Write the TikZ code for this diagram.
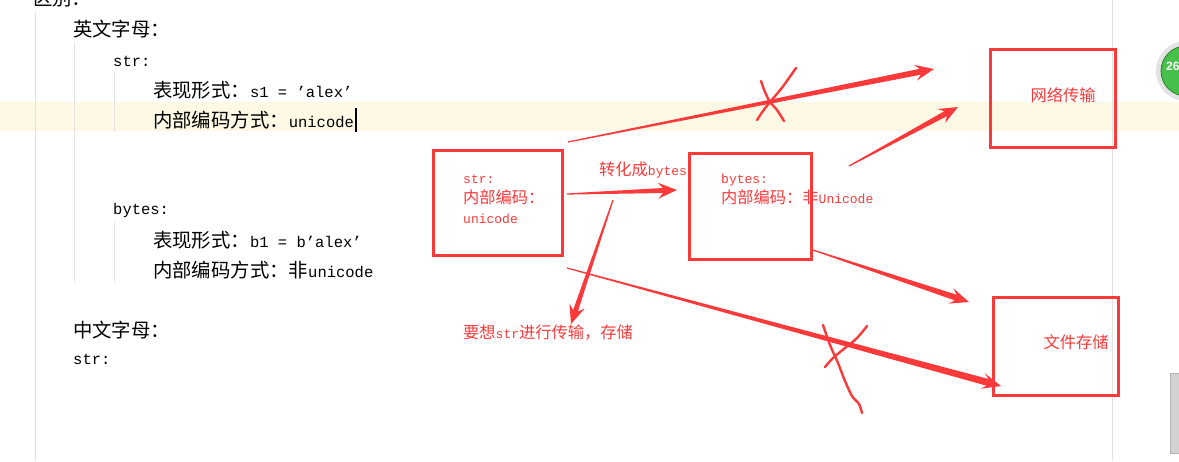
\documentclass[tikz,border=0pt]{standalone}
\usepackage{fontspec}
\setmainfont{Liberation Mono}
\newfontfamily\cjk[Scale=1.25]{Noto Sans CJK SC}
\newfontfamily\uisans{Liberation Sans}
\usetikzlibrary{calc}
\definecolor{annot}{RGB}{250,58,58}
\definecolor{guide}{RGB}{226,226,226}
\definecolor{caretline}{RGB}{253,249,229}
\definecolor{badge}{RGB}{70,192,72}
\newcommand\zh[1]{{\cjk #1}}
% tapered annotation arrow: from, to, half width of the shaft at the head
\newcommand\annarrow[3]{%
  \path ($(#2)!19pt!(#1)$) coordinate (wing) ($(#2)!14pt!(#1)$) coordinate (notch);
  \fill[annot] ($(#1)!0.6pt!90:(#2)$) -- ($(notch)!#3pt!-90:(#1)$) -- ($(wing)!8pt!-90:(#1)$)
    -- (#2) -- ($(wing)!8pt!90:(#1)$) -- ($(notch)!#3pt!90:(#1)$) -- ($(#1)!0.6pt!-90:(#2)$) -- cycle;
}

\begin{document}
\begin{tikzpicture}[x=1pt,y=-1pt,
  code/.style={anchor=west,inner sep=0pt,font=\fontsize{15.5}{18}\selectfont},
  note/.style={anchor=west,inner sep=0pt,text=annot,align=left,font=\fontsize{13}{20}\selectfont},
  frame/.style={draw=annot,line width=3pt,inner sep=0pt},
  scrawl/.style={annot,line width=2.4pt,line cap=round,line join=round}]
\useasboundingbox (0,0) rectangle (1179,461);
\clip (0,0) rectangle (1179,461);
\fill[white] (0,0) rectangle (1179,461);
\fill[caretline] (0,102) rectangle (1179,131);
% editor guides
\draw[guide] (35,12) -- (35,461);
\draw[guide] (74,42) -- (74,282);
\draw[guide] (114,72) -- (114,132);
\draw[guide] (114,222) -- (114,282);
\draw[guide] (1112,0) -- (1112,461);

% code text
\node[code] (diff) at (33,-2) {\zh{区别：}};
\node[code] (enletters) at (73,29) {\zh{英文字母：}};
\node[code] (strhead) at (113,61) {str:};
\node[code] (strform) at (153,90) {\zh{表现形式：}s1 = 'alex'};
\node[code] (strenc) at (153,120) {\zh{内部编码方式：}unicode};
\node[code] (byteshead) at (113,210) {bytes:};
\node[code] (bytesform) at (153,240) {\zh{表现形式：}b1 = b'alex'};
\node[code] (bytesenc) at (153,270) {\zh{内部编码方式：非}unicode};
\node[code] (cnletters) at (73,330) {\zh{中文字母：}};
\node[code] (cnstr) at (73,359) {str:};
\draw[line width=1.8pt] ($(strenc.east)+(2,-12)$) -- ($(strenc.east)+(2,12)$);

% annotation boxes
\node[frame,minimum width=129,minimum height=105] (strbox) at (497.5,202.5) {};
\node[frame,minimum width=122,minimum height=106] (bytesbox) at (750,206) {};
\node[frame,minimum width=125,minimum height=98] (netbox) at (1052.5,98) {};
\node[frame,minimum width=125,minimum height=98] (filebox) at (1055.5,346) {};

\node[note] (strnote) at (463,199) {str:\\\zh{内部编码：}\\unicode};
\node[note] (bytesnote) at (721,189) {bytes:\\\zh{内部编码：非}Unicode};
\node[note] (convnote) at (599,170) {\zh{转化成}bytes};
\node[note] (wantnote) at (463,333) {\zh{要想}str\zh{进行传输，存储}};
\node[note,anchor=center] (netnote) at (1063,95) {\zh{网络传输}};
\node[note,anchor=center] (filenote) at (1076,342) {\zh{文件存储}};

% arrows
\coordinate (a1s) at (567,194);  \coordinate (a1e) at (677,190);
\coordinate (a2s) at (568,142);  \coordinate (a2e) at (934,69);
\coordinate (a3s) at (849,166);  \coordinate (a3e) at (958,107);
\coordinate (a4s) at (613,200);  \coordinate (a4e) at (571,324);
\coordinate (a5s) at (813,250);  \coordinate (a5e) at (969,302);
\coordinate (a6s) at (567,268);  \coordinate (a6e) at (1001,386);
\annarrow{a1s}{a1e}{2.5}
\annarrow{a2s}{a2e}{3}
\annarrow{a3s}{a3e}{2.8}
\annarrow{a4s}{a4e}{2.5}
\annarrow{a5s}{a5e}{3}
\annarrow{a6s}{a6e}{3.5}

% crossings
\draw[scrawl] plot[smooth] coordinates {(796,68) (789,78) (781,89) (770,102) (763,111) (757,120)};
\draw[scrawl] plot[smooth] coordinates {(761,81) (765,92) (770,102) (777,110) (784,121)};
\draw[scrawl] plot[smooth] coordinates {(823,325) (830,345) (838,363) (845,381) (852,396) (859,404) (862,413)};
\draw[scrawl] plot[smooth] coordinates {(867,326) (857,338) (845,348) (833,358) (825,367)};

% right margin widgets
\fill[gray!22] (1186,71) circle (30);
\fill[badge] (1186,71) circle (25);
\draw[black!35!badge,line width=0.8pt] (1186,71) circle (25);
\node[inner sep=0pt,anchor=west,text=white,font=\uisans\bfseries\fontsize{12}{12}\selectfont] (count) at (1166,66) {26};
\draw[gray!60,fill=gray!35] (1170,373) rectangle (1186,453);
\end{tikzpicture}
\end{document}
